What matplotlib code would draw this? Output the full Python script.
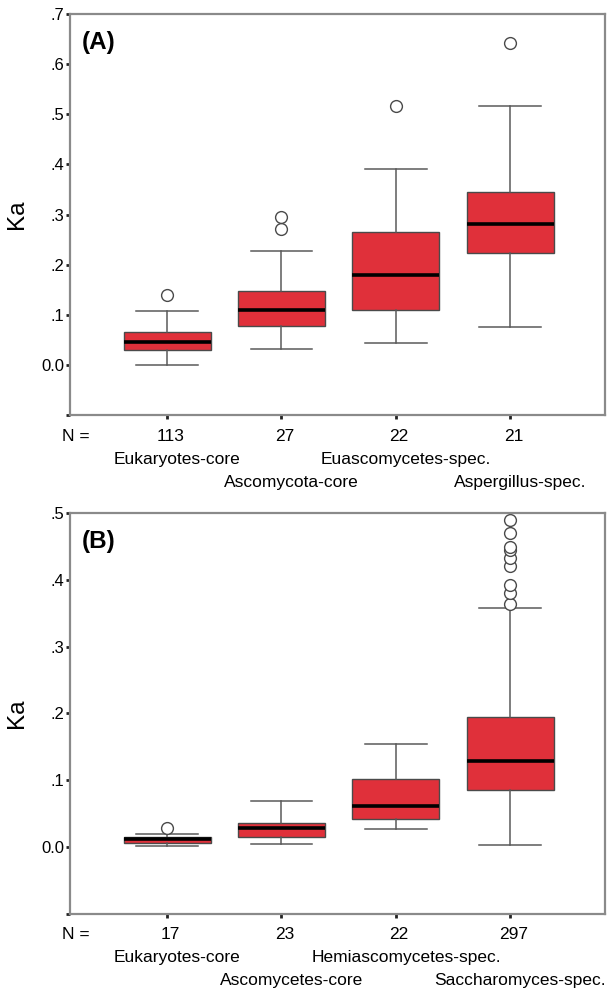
import matplotlib
matplotlib.use("Agg")
import matplotlib.pyplot as plt

plt.rcParams['font.family'] = ['Liberation Sans', 'DejaVu Sans']

# panel A
groups_a = ["Eukaryotes-core", "Ascomycota-core", "Euascomycetes-spec.", "Aspergillus-spec."]
n_a = [113, 27, 22, 21]
whislo_a = [0.000, 0.032, 0.043, 0.076]
q1_a = [0.030, 0.078, 0.110, 0.223]
med_a = [0.046, 0.110, 0.180, 0.282]
q3_a = [0.066, 0.148, 0.266, 0.345]
whishi_a = [0.107, 0.228, 0.390, 0.516]
fliers_a = [[0.139], [0.271, 0.295], [0.516], [0.643]]

# panel B
groups_b = ["Eukaryotes-core", "Ascomycetes-core", "Hemiascomycetes-spec.", "Saccharomyces-spec."]
n_b = [17, 23, 22, 297]
whislo_b = [0.002, 0.0045, 0.0265, 0.0025]
q1_b = [0.0065, 0.015, 0.0425, 0.085]
med_b = [0.0115, 0.029, 0.062, 0.1285]
q3_b = [0.015, 0.0365, 0.102, 0.194]
whishi_b = [0.019, 0.069, 0.1545, 0.3585]
fliers_b = [[0.0285], [], [],
            [0.364, 0.380, 0.392, 0.420, 0.433, 0.445, 0.449, 0.470, 0.490]]

yticks_a = [-0.1, 0.0, 0.1, 0.2, 0.3, 0.4, 0.5, 0.6, 0.7]
yticklabels_a = ["", "0.0", ".1", ".2", ".3", ".4", ".5", ".6", ".7"]
yticks_b = [-0.1, 0.0, 0.1, 0.2, 0.3, 0.4, 0.5]
yticklabels_b = ["", "0.0", ".1", ".2", ".3", ".4", ".5"]

RED = "#e0303a"
EDGE = "#4a4a4a"
SPINE = "#8a8a8a"

fig = plt.figure(figsize=(6.07, 9.92), dpi=100)


def panel(rect, tag, groups, n, wlo, q1, med, q3, whi, fl, yt, ytl, ylim):
    ax = fig.add_axes(rect)
    stats = []
    for i in range(len(groups)):
        stats.append(dict(whislo=wlo[i], q1=q1[i], med=med[i], q3=q3[i],
                          whishi=whi[i], fliers=fl[i], label=groups[i]))
    pos = list(range(1, len(groups) + 1))
    ax.bxp(stats, positions=pos, widths=0.76, capwidths=0.54, patch_artist=True,
           boxprops=dict(facecolor=RED, edgecolor=EDGE, linewidth=1.0),
           medianprops=dict(color="black", linewidth=2.6),
           whiskerprops=dict(color="#5a5a5a", linewidth=1.1),
           capprops=dict(color="#5a5a5a", linewidth=1.1),
           flierprops=dict(marker="o", markerfacecolor="white",
                           markeredgecolor="#4a4a4a", markersize=8.5,
                           markeredgewidth=1.0))
    ax.set_xlim(0.15, 4.83)
    ax.set_ylim(*ylim)
    ax.set_yticks(yt)
    ax.set_yticklabels(ytl, fontsize=12)
    ax.set_xticks(pos)
    ax.set_xticklabels([""] * len(pos))
    for s in ax.spines.values():
        s.set_color(SPINE)
        s.set_linewidth(1.6)
    ax.tick_params(axis="y", length=3, width=2, color="#222222", pad=1)
    ax.tick_params(axis="x", length=3, width=2, color="#222222")
    ax.set_ylabel("Ka", fontsize=17.5)
    ax.yaxis.set_label_coords(-0.079, 0.5)
    ax.text(0.022, 0.928, tag, transform=ax.transAxes, fontsize=17.5,
            fontweight="bold", va="center", ha="left")

    tr = ax.get_xaxis_transform()
    h = rect[3] * 992
    ax.text(0.2, -21 / h, "N =", transform=tr, ha="center", va="center",
            fontsize=12.5)
    for i, p in enumerate(pos):
        ax.text(p + 0.03, -21 / h, str(n[i]), transform=tr, ha="center",
                va="center", fontsize=12.5)
        dy = 44 if i % 2 == 0 else 67
        ax.text(p + 0.09, -dy / h, groups[i], transform=tr, ha="center",
                va="center", fontsize=12.5)
    return ax


panel([0.1153, 0.5816, 0.8814, 0.4043], "(A)", groups_a, n_a, whislo_a, q1_a,
      med_a, q3_a, whishi_a, fliers_a, yticks_a, yticklabels_a, (-0.1, 0.7))
panel([0.1153, 0.0787, 0.8814, 0.4042], "(B)", groups_b, n_b, whislo_b, q1_b,
      med_b, q3_b, whishi_b, fliers_b, yticks_b, yticklabels_b, (-0.1, 0.5))

fig.savefig("out.png", dpi=100)
